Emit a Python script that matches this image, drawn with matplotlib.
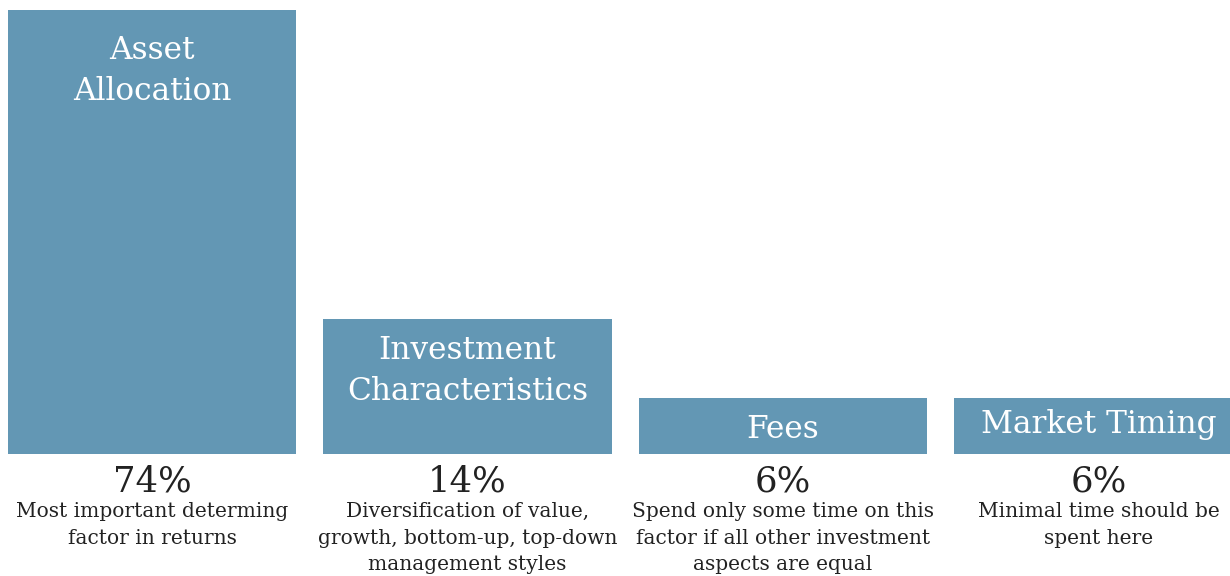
import matplotlib.pyplot as plt

# data
factors = ["Asset\nAllocation", "Investment\nCharacteristics", "Fees", "Market Timing"]
shares = ["74%", "14%", "6%", "6%"]
bar_heights = [444, 135, 56, 56]  # drawn heights (not proportional to the shares)
notes = [
    "Most important determing\nfactor in returns",
    "Diversification of value,\ngrowth, bottom-up, top-down\nmanagement styles",
    "Spend only some time on this\nfactor if all other investment\naspects are equal",
    "Minimal time should be\nspent here",
]

BAR_COLOR = "#6397b4"
TEXT_COLOR = "#222222"
FONT = "DejaVu Serif"

fig = plt.figure(figsize=(12.3, 5.76), dpi=100)
ax = fig.add_axes([0, 0, 1, 1])

x = list(range(len(factors)))
ax.bar(x, bar_heights, width=0.913, color=BAR_COLOR, align="center")

# pixel-like coordinates: bar base sits at y=0 (454 px from top)
ax.set_xlim(-152 / 315.5, (1230 - 152) / 315.5)
ax.set_ylim(-122, 454)
ax.axis("off")

label_y = [454 - 71, 454 - 371, 454 - 430, 454 - 425]
for i, (lab, h) in enumerate(zip(factors, bar_heights)):
    ax.text(i, label_y[i], lab, ha="center", va="center", color="white",
            fontsize=22.5, family=FONT, linespacing=1.45)

for i, s in enumerate(shares):
    ax.text(i, -27, s, ha="center", va="center", color=TEXT_COLOR,
            fontsize=25.5, family=FONT)

for i, n in enumerate(notes):
    ax.text(i, -48, n, ha="center", va="top", color=TEXT_COLOR,
            fontsize=14.5, family=FONT, linespacing=1.5)

fig.savefig("out.png", dpi=100, facecolor="white")
